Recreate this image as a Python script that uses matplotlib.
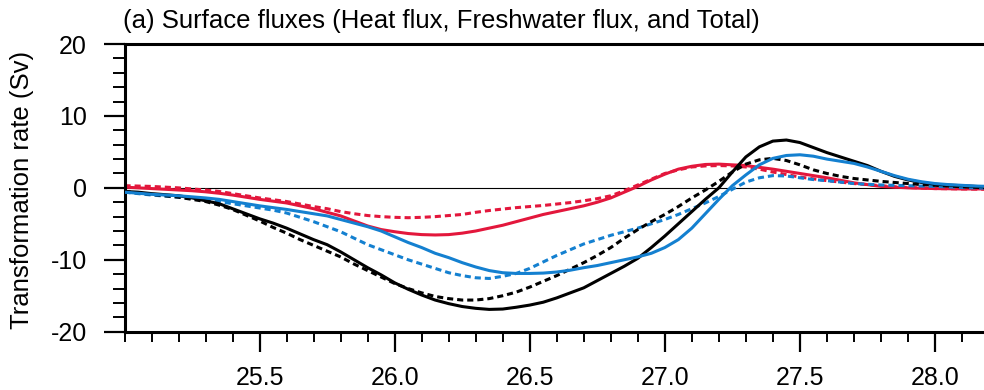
import matplotlib
matplotlib.use("Agg")
import matplotlib.pyplot as plt
from matplotlib.ticker import MultipleLocator

plt.rcParams['font.family'] = ['Liberation Sans', 'DejaVu Sans']

# Density grid (x)
sigma = [25.00, 25.05, 25.10, 25.15, 25.20, 25.25, 25.30, 25.35, 25.40, 25.45,
         25.50, 25.55, 25.60, 25.65, 25.70, 25.75, 25.80, 25.85, 25.90, 25.95,
         26.00, 26.05, 26.10, 26.15, 26.20, 26.25, 26.30, 26.35, 26.40, 26.45,
         26.50, 26.55, 26.60, 26.65, 26.70, 26.75, 26.80, 26.85, 26.90, 26.95,
         27.00, 27.05, 27.10, 27.15, 27.20, 27.25, 27.30, 27.35, 27.40, 27.45,
         27.50, 27.55, 27.60, 27.65, 27.70, 27.75, 27.80, 27.85, 27.90, 27.95,
         28.00, 28.05, 28.10, 28.15, 28.20]

total_solid = [-0.5, -0.6, -0.8, -0.95, -1.1, -1.4, -1.8, -2.2, -2.9, -3.6,
               -4.3, -4.9, -5.6, -6.4, -7.2, -7.9, -8.9, -10.0, -11.1, -12.1,
               -13.2, -14.1, -14.9, -15.6, -16.1, -16.5, -16.75, -16.9, -16.85, -16.6,
               -16.3, -15.9, -15.3, -14.6, -13.9, -12.9, -11.9, -10.9, -9.8, -8.3,
               -6.7, -5.0, -3.3, -1.6, 0.0, 2.2, 4.3, 5.7, 6.5, 6.65,
               6.3, 5.6, 4.9, 4.3, 3.7, 3.1, 2.3, 1.6, 1.1, 0.75,
               0.5, 0.38, 0.3, 0.2, 0.1]
total_dash = [-0.5, -0.7, -0.9, -1.1, -1.3, -1.6, -1.9, -2.4, -3.0, -3.8,
              -4.6, -5.5, -6.3, -7.2, -8.0, -8.8, -9.6, -10.6, -11.5, -12.4,
              -13.3, -14.0, -14.6, -15.1, -15.4, -15.6, -15.6, -15.4, -15.0, -14.5,
              -13.8, -13.0, -12.2, -11.3, -10.4, -9.4, -8.3, -7.0, -5.8, -4.7,
              -3.7, -2.6, -1.4, -0.3, 0.9, 2.2, 3.3, 3.9, 4.1, 3.8,
              3.2, 2.5, 2.0, 1.6, 1.3, 1.1, 0.9, 0.75, 0.6, 0.45,
              0.35, 0.25, 0.15, 0.07, 0.0]
fresh_solid = [-0.6, -0.75, -0.9, -1.0, -1.1, -1.25, -1.4, -1.6, -1.9, -2.2,
               -2.5, -2.75, -3.0, -3.3, -3.6, -3.9, -4.4, -4.9, -5.4, -6.0,
               -6.8, -7.6, -8.3, -9.1, -9.7, -10.4, -11.0, -11.5, -11.8, -11.9,
               -11.9, -11.85, -11.7, -11.45, -11.1, -10.8, -10.4, -10.0, -9.6, -9.1,
               -8.3, -7.2, -5.6, -3.6, -1.6, 0.3, 1.8, 3.2, 4.1, 4.5,
               4.6, 4.4, 4.0, 3.7, 3.4, 2.9, 2.3, 1.7, 1.2, 0.85,
               0.6, 0.45, 0.35, 0.25, 0.2]
fresh_dash = [-0.6, -0.8, -1.0, -1.15, -1.3, -1.5, -1.7, -1.9, -2.2, -2.5,
              -2.8, -3.1, -3.5, -4.1, -4.7, -5.4, -6.1, -7.0, -7.9, -8.6,
              -9.3, -10.0, -10.6, -11.2, -11.8, -12.2, -12.5, -12.6, -12.3, -11.9,
              -11.2, -10.3, -9.4, -8.6, -7.8, -7.2, -6.6, -6.1, -5.6, -5.0,
              -4.4, -3.7, -2.9, -2.1, -1.2, -0.2, 0.8, 1.4, 1.7, 1.65,
              1.4, 1.15, 1.0, 0.8, 0.6, 0.5, 0.4, 0.35, 0.3, 0.25,
              0.2, 0.12, 0.05, 0.0, -0.05]
heat_solid = [0.1, 0.0, -0.1, -0.2, -0.3, -0.4, -0.55, -0.75, -1.0, -1.3,
              -1.6, -1.85, -2.1, -2.5, -2.9, -3.4, -3.9, -4.6, -5.3, -5.8,
              -6.1, -6.35, -6.5, -6.55, -6.5, -6.3, -6.0, -5.6, -5.2, -4.7,
              -4.2, -3.7, -3.3, -2.9, -2.5, -2.0, -1.4, -0.6, 0.2, 1.1,
              1.9, 2.6, 3.0, 3.25, 3.3, 3.2, 3.1, 2.85, 2.6, 2.3,
              2.0, 1.7, 1.4, 1.05, 0.7, 0.45, 0.2, 0.1, 0.0, -0.05,
              -0.1, -0.12, -0.15, -0.15, -0.15]
heat_dash = [0.3, 0.25, 0.2, 0.1, 0.0, -0.15, -0.3, -0.5, -0.8, -1.1,
             -1.4, -1.65, -1.9, -2.25, -2.6, -2.9, -3.3, -3.6, -3.85, -4.0,
             -4.1, -4.15, -4.1, -4.0, -3.85, -3.7, -3.4, -3.15, -2.95, -2.75,
             -2.6, -2.45, -2.25, -2.05, -1.8, -1.5, -1.1, -0.4, 0.4, 1.2,
             2.0, 2.5, 2.9, 3.05, 3.1, 3.05, 2.9, 2.6, 2.2, 1.85,
             1.5, 1.25, 1.0, 0.8, 0.6, 0.45, 0.3, 0.15, 0.05, -0.02,
             -0.1, -0.12, -0.15, -0.18, -0.2]

xticks = [25.5, 26.0, 26.5, 27.0, 27.5, 28.0]
xticklabels = ["25.5", "26.0", "26.5", "27.0", "27.5", "28.0"]
yticks = [-20, -10, 0, 10, 20]
yticklabels = ["-20", "-10", "0", "10", "20"]

W, H = 984, 390
fig = plt.figure(figsize=(W / 100, H / 100), dpi=100)
x0, x1 = 124.5, 989.0
ytop, ybot = 44.0, 331.7
ax = fig.add_axes([x0 / W, (H - ybot) / H, (x1 - x0) / W, (ybot - ytop) / H])

BLUE = '#1480d0'
RED = '#e3173c'
lw = 2.2
dash = (0, (2.0, 1.3))

ax.axhline(0, color='black', lw=0.8, zorder=1)
ax.plot(sigma, heat_dash, color=RED, lw=lw, ls=dash, zorder=2)
ax.plot(sigma, heat_solid, color=RED, lw=lw, zorder=2)
ax.plot(sigma, fresh_dash, color=BLUE, lw=lw, ls=dash, zorder=3)
ax.plot(sigma, total_dash, color='black', lw=lw, ls=dash, zorder=3)
ax.plot(sigma, total_solid, color='black', lw=lw, zorder=4)
ax.plot(sigma, fresh_solid, color=BLUE, lw=lw, zorder=4)

ax.set_xlim(25.0, 28.2)
ax.set_ylim(-20, 20)

ax.set_xticks(xticks)
ax.set_xticklabels(xticklabels)
ax.xaxis.set_minor_locator(MultipleLocator(0.1))
ax.set_yticks(yticks)
ax.set_yticklabels(yticklabels)
ax.yaxis.set_minor_locator(MultipleLocator(2))

for s in ax.spines.values():
    s.set_linewidth(2.2)

ax.tick_params(axis='x', which='major', direction='out', length=14.5, width=1.6,
               labelsize=18, pad=10)
ax.tick_params(axis='x', which='minor', direction='out', length=7.2, width=1.4)
ax.tick_params(axis='y', which='major', direction='out', length=15, width=1.6,
               labelsize=18, pad=12)
ax.tick_params(axis='y', which='minor', direction='out', length=8.4, width=1.4)
ax.tick_params(top=False, right=False)

fig.text(123 / W, (H - 28) / H, "(a) Surface fluxes (Heat flux, Freshwater flux, and Total)",
         ha='left', va='baseline', fontsize=18.5)
fig.text(22 / W, (H - 190) / H, "Transformation rate (Sv)", rotation=90,
         ha='center', va='center', fontsize=18.5)

fig.savefig("out.png", dpi=100)
